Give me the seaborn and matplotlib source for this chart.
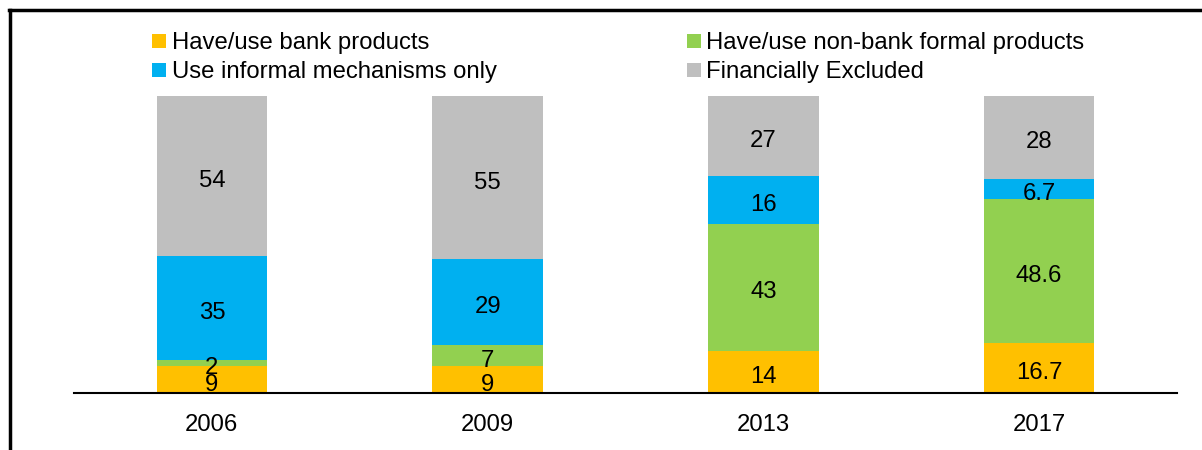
import pandas as pd
import seaborn as sns
import matplotlib.pyplot as plt
from matplotlib.lines import Line2D

# Dados (% da população adulta)
YEARS = ['2006', '2009', '2013', '2017']
BANK = [9, 9, 14, 16.7]
NONBANK = [2, 7, 43, 48.6]
INFORMAL = [35, 29, 16, 6.7]
EXCLUDED = [54, 55, 27, 28]

SERIES = [
    ('Have/use bank products', BANK, '#FFC000'),
    ('Use informal mechanisms only', INFORMAL, '#00B0F0'),
    ('Have/use non-bank formal products', NONBANK, '#92D050'),
    ('Financially Excluded', EXCLUDED, '#BFBFBF'),
]
STACK_ORDER = ['Have/use bank products', 'Have/use non-bank formal products',
               'Use informal mechanisms only', 'Financially Excluded']
LABELS = ['9', '9', '14', '16.7',
          '2', '7', '43', '48.6',
          '35', '29', '16', '6.7',
          '54', '55', '27', '28']

FS = 17.2
plt.rcParams['font.family'] = ['Liberation Sans', 'DejaVu Sans']

df = pd.DataFrame({'year': YEARS})
colors = {}
for name, vals, col in SERIES:
    df[name] = vals
    colors[name] = col

# cumulativo para empilhar (desenha de trás pra frente)
cum = df[STACK_ORDER].cumsum(axis=1)

fig = plt.figure(figsize=(12.02, 4.5), dpi=100)
ax = fig.add_axes([74 / 1202, 57 / 450, 1103 / 1202, 297 / 450])

for name in reversed(STACK_ORDER):
    sns.barplot(x=df['year'], y=cum[name], color=colors[name], width=0.4,
                saturation=1, ax=ax, linewidth=0, order=YEARS)

# rótulos no meio de cada segmento
k = 0
for name in STACK_ORDER:
    base = cum[name] - df[name]
    for i in range(len(YEARS)):
        ax.text(i, base[i] + df[name][i] / 2 - 0.8, LABELS[k], ha='center',
                va='center_baseline', fontsize=FS, color='black')
        k += 1

ax.set_xlim(-0.5, 3.5)
ax.set_ylim(0, 100)
ax.set_xlabel('')
ax.set_ylabel('')
ax.set_yticks([])
ax.tick_params(axis='x', length=0, pad=15, labelsize=FS)
for s in ['top', 'right', 'left']:
    ax.spines[s].set_visible(False)
ax.spines['bottom'].set_linewidth(1.5)
ax.spines['bottom'].set_color('black')

handles = [Line2D([], [], marker='s', linestyle='none', markersize=10,
                  markerfacecolor=col, markeredgewidth=0) for _, _, col in SERIES]
fig.legend(handles, [n for n, _, _ in SERIES], ncol=2, frameon=False,
           fontsize=FS, loc='upper left', bbox_to_anchor=(152 / 1202, 1 - 32 / 450),
           handlelength=0.6, handletextpad=0.22, columnspacing=7.95,
           labelspacing=0.3, borderaxespad=0, borderpad=0)

# moldura
fig.add_artist(Line2D([10 / 1202, 10 / 1202], [0, 1 - 10 / 450], color='black',
                      lw=2.5, transform=fig.transFigure))
fig.add_artist(Line2D([9 / 1202, 1], [1 - 10 / 450, 1 - 10 / 450], color='black',
                      lw=2.5, transform=fig.transFigure))

fig.savefig('out.png', dpi=100)
